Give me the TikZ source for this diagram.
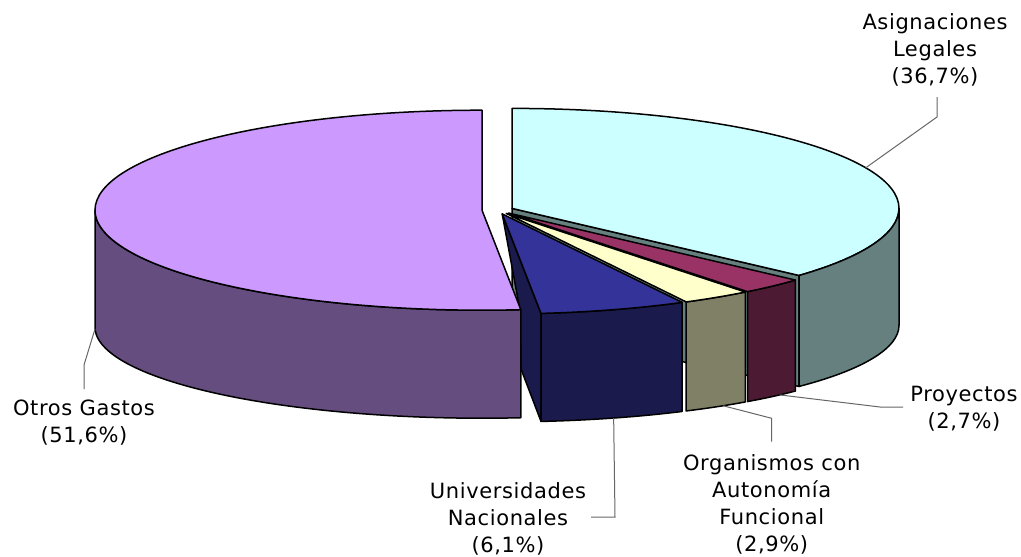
\documentclass[tikz,border=0pt]{standalone}
\usepackage{fontspec}
\newfontfamily\chartfont{DejaVu Sans}[LetterSpace=3]
\usetikzlibrary{calc}

\definecolor{asigtop}{HTML}{CCFFFF}
\definecolor{asigside}{HTML}{668080}
\definecolor{proytop}{HTML}{993366}
\definecolor{proyside}{HTML}{4D1A33}
\definecolor{orgtop}{HTML}{FFFFCC}
\definecolor{orgside}{HTML}{808066}
\definecolor{univtop}{HTML}{333399}
\definecolor{univside}{HTML}{1A1A4D}
\definecolor{otrostop}{HTML}{CC99FF}
\definecolor{otrosside}{HTML}{664D80}

\begin{document}
\begin{tikzpicture}[x=1pt, y=1pt,
                    piece/.style={draw=black, line width=1.5pt, line join=round},
                    leader/.style={draw=black!60, line width=1pt},
                    pietext/.style={font=\chartfont\fontsize{21}{27}\selectfont, align=center, inner sep=0pt},
                    toparc/.style={x radius=387, y radius=100},
                    botarc/.style={x radius=387, y radius=91}
]
\useasboundingbox (0,0) rectangle (1021,-557);

\coordinate (cA) at (512,-208.4);   \coordinate (cAb) at (512,-325.4);
\coordinate (cP) at (508.4,-213);   \coordinate (cPb) at (508.4,-330);
\coordinate (cO) at (506.2,-213.4); \coordinate (cOb) at (506.2,-330.4);
\coordinate (cU) at (502.2,-213.9); \coordinate (cUb) at (502.2,-330.9);
\coordinate (cG) at (482,-210.2);   \coordinate (cGb) at (482,-327.2);

% Asignaciones Legales
\filldraw[piece, fill=asigside] (cA) -- ++(-42.12:387 and 100) -- ($(cAb)+(-42.12:387 and 91)$) -- (cAb) -- cycle;
\filldraw[piece, fill=asigtop] (cA) -- ++(90:387 and 100) arc[toparc, start angle=90, end angle=-42.12] -- cycle;
\filldraw[piece, fill=asigside] ($(cA)+(0:387 and 100)$) arc[toparc, start angle=0, end angle=-42.12]
    -- ($(cAb)+(-42.12:387 and 91)$) arc[botarc, start angle=-42.12, end angle=0] -- cycle;

% Proyectos
\filldraw[piece, fill=proyside] ($(cP)+(-42.12:387 and 100)$) arc[toparc, start angle=-42.12, end angle=-51.84]
    -- ($(cPb)+(-51.84:387 and 91)$) arc[botarc, start angle=-51.84, end angle=-42.12] -- cycle;
\filldraw[piece, fill=proytop] (cP) -- ++(-42.12:387 and 100) arc[toparc, start angle=-42.12, end angle=-51.84] -- cycle;

% Organismos con Autonomia Funcional
\filldraw[piece, fill=orgside] ($(cO)+(-51.84:387 and 100)$) arc[toparc, start angle=-51.84, end angle=-62.28]
    -- ($(cOb)+(-62.28:387 and 91)$) arc[botarc, start angle=-62.28, end angle=-51.84] -- cycle;
\filldraw[piece, fill=orgtop] (cO) -- ++(-51.84:387 and 100) arc[toparc, start angle=-51.84, end angle=-62.28] -- cycle;

% Universidades Nacionales
\filldraw[piece, fill=univside] (cU) -- ++(-84.24:387 and 100) -- ($(cUb)+(-84.24:387 and 91)$) -- (521,-369) -- (519,-305) -- cycle;
\filldraw[piece, fill=univside] ($(cU)+(-62.28:387 and 100)$) arc[toparc, start angle=-62.28, end angle=-84.24]
    -- ($(cUb)+(-84.24:387 and 91)$) arc[botarc, start angle=-84.24, end angle=-62.28] -- cycle;
\filldraw[piece, fill=univtop] (cU) -- ++(-62.28:387 and 100) arc[toparc, start angle=-62.28, end angle=-84.24] -- cycle;

% Otros Gastos
\filldraw[piece, fill=otrosside] ($(cG)+(180:387 and 100)$) arc[toparc, start angle=180, end angle=275.76]
    -- ($(cGb)+(275.76:387 and 91)$) arc[botarc, start angle=275.76, end angle=180] -- cycle;
\filldraw[piece, fill=otrostop] (cG) -- ++(90:387 and 100) arc[toparc, start angle=90, end angle=275.76] -- cycle;

\node[pietext] (asig) at (935,-50) {Asignaciones\\Legales\\(36,7\%)};
\node[pietext] (proy) at (964,-409) {Proyectos\\(2,7\%)};
\node[pietext] (org) at (771.7,-504) {Organismos con\\Autonomía\\Funcional\\(2,9\%)};
\node[pietext] (univ) at (508,-519.3) {Universidades\\Nacionales\\(6,1\%)};
\node[pietext] (otros) at (84,-423) {Otros Gastos\\(51,6\%)};

\coordinate (pA) at ($(cA)+(23.94:387 and 100)$);
\coordinate (kA) at (937,-117);
\coordinate (eA) at (937,-97);
\coordinate (pP) at ($(cPb)+(-45.5:387 and 91)$);
\coordinate (kP) at (880,-407);
\coordinate (eP) at (903,-407);
\coordinate (pO) at ($(cOb)+(-55.9:387 and 91)$);
\coordinate (kO) at (771.7,-418.3);
\coordinate (eO) at (771.7,-441.7);
\coordinate (pU) at ($(cUb)+(-73.26:387 and 91)$);
\coordinate (kU) at (615,-517);
\coordinate (eU) at (591,-517);
\coordinate (pG) at ($(cGb)+(181:387 and 91)$);
\coordinate (kG) at (84,-365);
\coordinate (eG) at (84,-389);

\draw[leader] (pA) -- (kA) -- (eA);
\draw[leader] (pP) -- (kP) -- (eP);
\draw[leader] (pO) -- (kO) -- (eO);
\draw[leader] (pU) -- (kU) -- (eU);
\draw[leader] (pG) -- (kG) -- (eG);

\end{tikzpicture}
\end{document}
